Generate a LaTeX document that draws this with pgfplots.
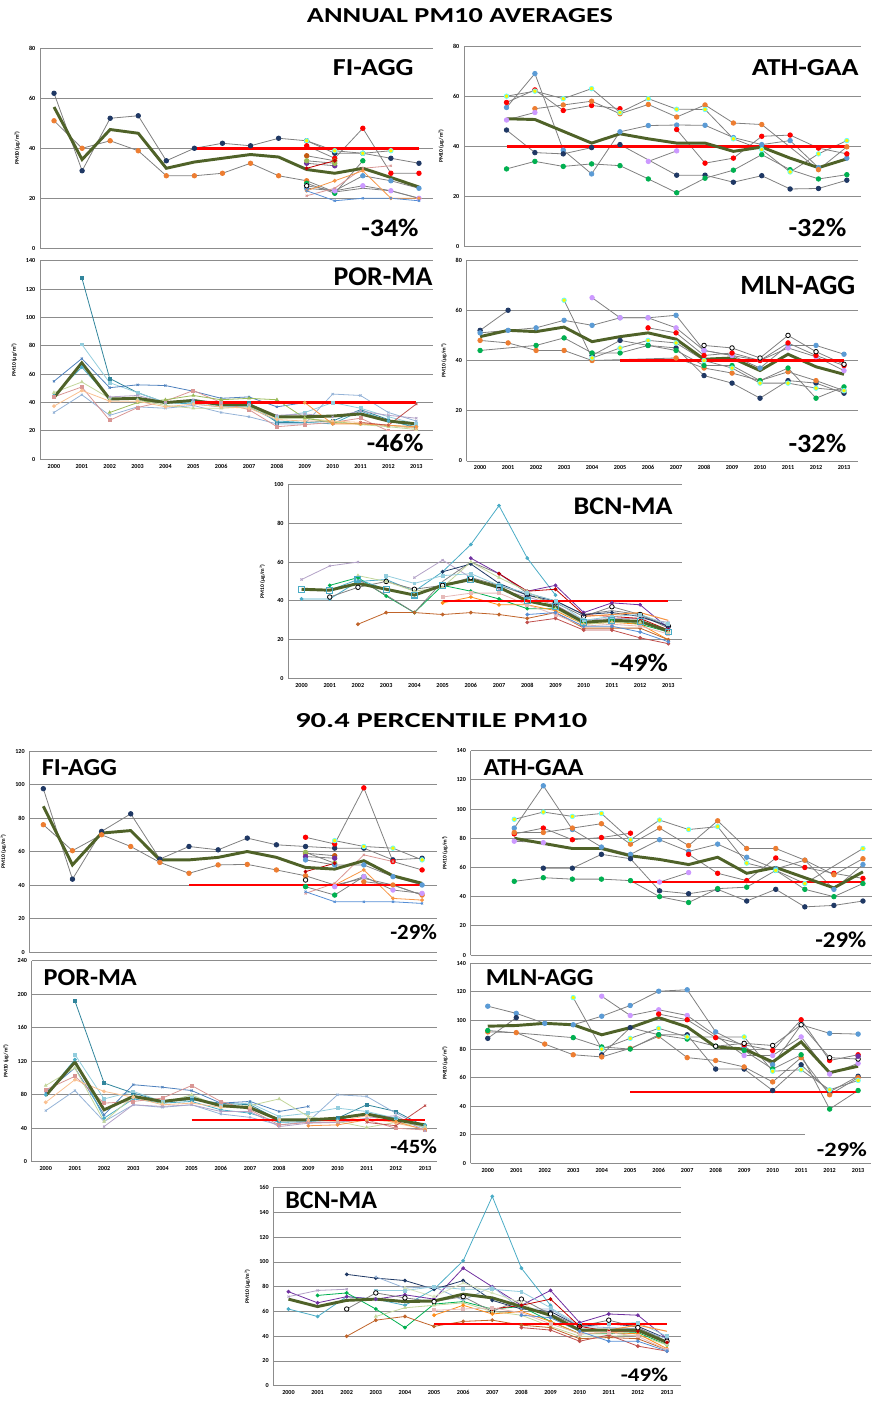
\documentclass[border=0pt]{standalone}
\usepackage{pgfplots}
\pgfplotsset{compat=1.18}
\usepackage{fontspec}
\setmainfont{Carlito}
\usepackage{graphicx}

\definecolor{navy}{HTML}{1F3864}
\definecolor{xorange}{HTML}{ED7D31}
\definecolor{xblue}{HTML}{5B9BD5}
\definecolor{xgreen}{HTML}{00B050}
\definecolor{xlav}{HTML}{CC99FF}
\definecolor{xpurple}{HTML}{7030A0}
\definecolor{xbrown}{HTML}{C55A11}
\definecolor{xolive}{HTML}{9BBB59}
\definecolor{xdred}{HTML}{C00000}
\definecolor{meanc}{HTML}{4F6228}
\definecolor{teal1}{HTML}{31859C}
\definecolor{teal2}{HTML}{4BACC6}
\definecolor{lteal}{HTML}{93CDDD}
\definecolor{eblue}{HTML}{4F81BD}
\definecolor{lblue}{HTML}{95B3D7}
\definecolor{xpink}{HTML}{D99694}
\definecolor{lpink}{HTML}{E6B9B8}
\definecolor{ered}{HTML}{C0504D}
\definecolor{lgreen}{HTML}{C3D69B}
\definecolor{pgreen}{HTML}{D7E4BD}
\definecolor{eorange}{HTML}{F79646}
\definecolor{lorange}{HTML}{FAC090}
\definecolor{elav}{HTML}{B3A2C7}
\definecolor{cblue}{HTML}{558ED5}
\definecolor{bbrown}{HTML}{C0642A}
\definecolor{borange}{HTML}{FF8C1A}
\definecolor{cyr}{HTML}{66FFFF}

\pgfplotsset{
  pm/.style={scale only axis, anchor=south west,
    axis lines=left, axis line style={draw=black!45, line width=0.6pt, -},
    ymajorgrids, grid style={draw=black!45, line width=0.7pt},
    major tick length=0pt, ymin=0,
    xtick={0,1,2,3,4,5,6,7,8,9,10,11,12,13},
    xticklabels={2000,2001,2002,2003,2004,2005,2006,2007,2008,2009,2010,2011,2012,2013},
    /pgf/number format/assume math mode=true,
    tick label style={font=\fontsize{4.6}{5}\selectfont\bfseries},
    ylabel={PM10 (µg/m³)},
    ylabel style={font=\fontsize{4.2}{5}\selectfont\bfseries},
  },
  noxl/.style={xticklabels={}},
  gline/.style={draw=black!50, line width=0.6pt, mark=*, mark size=1.7pt},
  cline/.style={line width=0.6pt, mark size=1.1pt},
  meanline/.style={draw=meanc, line width=2.2pt, no marks},
  limline/.style={draw=red, line width=2pt, no marks},
}
\newcommand{\gs}[2]{\addplot[gline, mark options={fill=#1,draw=#1}] coordinates {#2};}
\newcommand{\gcy}[1]{\addplot[gline, mark options={fill=yellow,draw=cyr,line width=0.6pt}] coordinates {#1};}
\newcommand{\gop}[1]{\addplot[gline, mark options={fill=white,draw=black,line width=0.6pt}] coordinates {#1};}
\newcommand{\cs}[3]{\addplot[cline, draw=#1, mark=#2, mark options={fill=#1,draw=#1,solid}] coordinates {#3};}
\newcommand{\mn}[1]{\addplot[meanline] coordinates {#1};}
\newcommand{\lm}[1]{\addplot[limline] coordinates {#1};}
\newcommand{\lab}[5]{\node[anchor=south west, inner sep=0pt] at (#1,#2) {\resizebox{#3pt}{#4pt}{\bfseries #5}};}

\begin{document}
\begin{tikzpicture}
\path[use as bounding box] (0pt,0pt) rectangle (654.75pt,-1052.25pt);

% ---------- P1 FI-AGG annual
\begin{axis}[pm, noxl, at={(30pt,-186.2pt)}, width=294.75pt, height=150pt,
  xmin=-0.5, xmax=13.5, ymax=80, ytick={0,20,40,60,80}]
\gs{navy}{(0,62)(1,31)(2,52)(3,53)(4,35)(5,40)(6,42)(7,41)(8,44)(9,43)(10,38)(11,38)(12,36)(13,34)}
\gs{xorange}{(0,51)(1,40)(2,43)(3,39)(4,29)(5,29)(6,30)(7,34)(8,29)(9,27)}
\addplot[draw=black!50, line width=0.6pt] coordinates {(9,27)(10,22.5)(11,24)(12,23)(13,20)};
\gcy{(9,43)(10,39)(11,38)(12,39)}
\gs{red}{(9,41)(10,36)(11,48)(12,30)(13,30)}
\gs{xbrown}{(9,37)(10,35)}
\gs{xpurple}{(9,34)(10,33)}
\gs{xolive}{(9,35)(10,34)}
\cs{xdred}{*}{(9,32)(10,35)}
\gs{xgreen}{(9,26)(10,22)(11,35)}
\gs{xblue}{(9,24)(10,23)(11,29)(12,27)(13,24)}
\gs{xlav}{(9,25)(10,23)(11,25)(12,23)(13,20)}
\cs{xpink}{x}{(9,21)(10,24)(11,32)(12,33)}
\cs{eorange}{*}{(9,23)(10,27)(11,31)(12,20)(13,20)}
\cs{cblue}{x}{(9,23)(10,19)(11,20)(12,20)(13,19)}
\gop{(9,25)}
\mn{(0,56.5)(1,35.5)(2,47.5)(3,46)(4,32)(5,34.5)(6,36)(7,37.5)(8,36.5)(9,31.5)(10,30)(11,32)(12,28.3)(13,24.5)}
\lm{(5,40)(13,40)}
\end{axis}

% ---------- P2 ATH-GAA annual
\begin{axis}[pm, noxl, at={(348pt,-185pt)}, width=297.75pt, height=150.5pt,
  xmin=-0.5, xmax=13.5, ymax=80, ytick={0,20,40,60,80}]
\gs{xblue}{(1,55.5)(2,69)(3,38.5)(4,29)(5,45.8)(6,48.3)(7,48.5)(8,48.4)(9,43.5)(10,40.7)(11,42.3)(12,31.5)(13,35.3)}
\gs{red}{(1,57.5)(2,62.5)(3,54.3)(4,56.3)(5,55)}
\gs{red}{(7,46.7)(8,33.3)(9,35.3)(10,44)(11,44.5)(12,39.3)(13,37)}
\gs{xorange}{(2,55)(3,56.5)(4,58)(5,53)(6,56.7)(7,51.7)(8,56.5)(9,49.3)(10,48.7)(12,30.7)(13,39.8)}
\gs{xlav}{(1,50.5)(2,53.5)}
\gs{xlav}{(6,34)(7,38.2)}
\gs{navy}{(1,46.5)(2,37.5)(3,37)(4,39.5)(5,40.7)(7,28.5)(8,28.5)(9,25.7)(10,28.3)(11,23)(12,23.2)(13,26.5)}
\gs{xgreen}{(1,31)(2,34)(3,32)(4,33)(5,32.3)(6,27)(7,21.5)(8,27.3)(9,30.5)(10,36.7)(11,30.7)(12,27)(13,28.7)}
\gcy{(1,60)(2,62)(3,59)(4,63)(5,53.5)(6,59)(7,54.8)(8,54.7)(9,43)(10,38.7)(11,29.8)(12,37)(13,42.3)}
\lm{(1,40)(13,40)}
\mn{(1,51)(2,50.7)(3,46)(4,41.3)(5,45)(6,43)(7,41.3)(8,41.3)(9,38)(10,39.7)(11,35.3)(12,31.5)(13,35)}
\end{axis}

% ---------- P3 POR-MA annual
\begin{axis}[pm, at={(30pt,-344.5pt)}, width=294.75pt, height=149pt,
  xmin=-0.5, xmax=13.6, ymax=140, ytick={0,20,40,60,80,100,120,140}]
\cs{teal1}{square*}{(1,128)(2,57)(3,47)(4,40)(5,41)(6,38)(7,40)(8,26)(9,26)(10,27)(11,35)(12,28)(13,22)}
\cs{lteal}{square*}{(1,81)(2,54)(3,47)(4,40)(5,40)(6,38)(7,38)(8,30)(9,33)(10,40)(11,36)(12,30)(13,25)}
\cs{eblue}{x}{(0,55)(1,71)(2,50.5)(3,52.5)(4,52)(5,48)(6,43)(7,44)(8,37)(9,40)}
\cs{teal2}{*}{(0,45)(1,65)(2,43)(3,42)(4,40)(5,39)(6,37)(7,37)(8,27)(9,26)(10,25)(11,34)(12,27)(13,23)}
\cs{lblue}{x}{(0,33)(1,45.5)(2,31)(3,37)(4,36)(5,38)(6,33)(7,30)(8,25)(9,25)(10,46)(11,45)(12,33)(13,27)}
\cs{xpink}{square*}{(0,44)(1,51)(2,27.5)(3,36.5)(4,41)(5,48.5)(6,40)(7,35)(8,23)(9,24.5)(10,26)(11,29)(12,20)(13,20)}
\cs{lgreen}{triangle*}{(0,47)(1,54.5)(2,43)(3,42)(4,38)(5,36)(6,36)(7,37)(8,29)(9,29)(10,27)(11,24.5)(12,23)(13,21)}
\cs{xolive}{triangle*}{(2,33)(3,40)(4,42)(5,45)(6,42)(7,43)(8,42)(9,29)(10,26)(11,25)(12,24)(13,22)}
\cs{lorange}{*}{(0,37.5)(1,48.5)(2,41)(3,41)(4,37)(5,39)(6,37)(7,36)(8,28)(9,27)(10,27)(11,26)(12,24)(13,22)}
\cs{eorange}{*}{(9,40)(10,25)(11,25)(12,24)(13,23)}
\cs{elav}{x}{(2,44)(3,45)(4,40)(5,42)(6,40)(7,39)(8,31)(9,32)(10,30)(11,34)(12,31)(13,29)}
\cs{ered}{x}{(11,26)(12,24)(13,39)}
\mn{(0,43.5)(1,68)(2,42.5)(3,43)(4,40)(5,41.5)(6,38.5)(7,38.5)(8,30)(9,30)(10,30.5)(11,32)(12,27)(13,25)}
\lm{(5,40)(13,40)}
\end{axis}

% ---------- P4 MLN-AGG annual
\begin{axis}[pm, at={(350pt,-345.75pt)}, width=293.5pt, height=150.75pt,
  xmin=-0.48, xmax=13.5, ymax=80, ytick={0,20,40,60,80}]
\gs{navy}{(0,52)(1,60)}
\gs{navy}{(4,42)(5,48)(6,46)(7,45)(8,34)(9,31)(10,25)(11,32)(12,31)(13,27)}
\gs{xblue}{(0,51)(1,52)(2,53)(3,56)(4,54)(5,57)(6,57)(7,58)(8,44)(9,42)(10,37)(11,46)(12,46)(13,42.5)}
\gs{xorange}{(0,48)(1,47)(2,44)(3,44)(4,40)(7,41)(8,37)(9,35)(10,32)(11,35.5)(12,32)(13,28)}
\gs{xgreen}{(0,44)(2,46)(3,49)(4,43)(5,43)(6,46)(7,44)(8,38)(9,38)(10,32)(11,37)(12,25)(13,29.5)}
\gcy{(3,64)(4,41)(5,45)(6,48)(7,47)(8,40)(9,37)(10,31)(11,31)(12,29)(13,28)}
\gs{xlav}{(4,65)(5,57)(6,57)(7,53)(8,44)(9,42)(10,40)(11,45)(12,41.5)(13,36)}
\gs{red}{(6,53)(7,51)(8,42)(9,43)(10,40)(11,47)(12,42)(13,38)}
\gop{(8,46)(9,45)(10,41)(11,50)(12,43.5)(13,38.5)}
\mn{(0,49.5)(1,52)(2,51.5)(3,53.3)(4,47.5)(5,49.5)(6,51)(7,48.5)(8,40.5)(9,41)(10,36)(11,42.5)(12,37.5)(13,34.5)}
\lm{(5,40)(13,40)}
\end{axis}

% ---------- P5 BCN-MA annual
\begin{axis}[pm, at={(216.2pt,-509pt)}, width=295pt, height=145.8pt,
  xmin=-0.47, xmax=13.47, ymax=100, ytick={0,20,40,60,80,100}]
\cs{teal2}{*}{(0,41)(1,41)(2,50)(3,51)(4,45)(5,55)(6,69)(7,89)(8,62)(9,43)}
\cs{elav}{x}{(0,51)(1,58)(2,60)}
\cs{elav}{x}{(4,52)(5,61)(6,52)(7,46)(8,42)(9,38)(10,30)(11,31)(12,31)(13,29)}
\cs{xgreen}{*}{(1,48)(2,52)(3,42.5)(4,34)(5,48)(6,45)(7,41)(8,36)(9,36)(10,29)(11,30)(12,28)(13,24)}
\addplot[draw=black!50, line width=0.6pt, mark=*, mark size=1.7pt, mark options={fill=white,draw=black}] coordinates {(1,42)(2,47)(3,50)(4,46)(5,48)(6,52)(7,48)(8,43)(9,39)(10,32)(11,37)(12,33)(13,27)};
\addplot[draw=black!50, line width=0.6pt] coordinates {(2,51)(3,43)(4,34)(5,50)(6,60)(7,54)(8,44)(9,40)(10,33)(11,35)(12,33)(13,26)};
\cs{xpurple}{*}{(6,62)(7,54)(8,45)(9,48)(10,34)(11,39)(12,38)(13,26)}
\cs{xdred}{*}{(7,54)(8,45)(9,46)(10,33)(11,32)(12,31)(13,25)}
\cs{navy}{*}{(5,55)(6,59)(7,49)(8,43)(9,40)(10,33)(11,34)(12,32)(13,27)}
\cs{borange}{*}{(5,39)(6,42)(7,38)(8,38)(9,35)(10,28)(11,29)(12,28)(13,20)}
\cs{bbrown}{*}{(2,28)(3,34)(4,34)(5,33)(6,34)(7,33)(8,31)(9,34)(10,26)(11,26)(12,26)(13,20)}
\cs{ered}{*}{(8,29)(9,31)(10,25)(11,25)(12,21)(13,18)}
\cs{lpink}{square*}{(5,42)(6,44)(7,44)(8,38)(9,33)(10,27)(11,28)(12,27)(13,23)}
\cs{lgreen}{triangle*}{(2,53)(3,50)(4,45)(5,47)(6,60)(7,52)(8,45)(9,36)(10,28)(11,29)(12,29)(13,24)}
\cs{lteal}{square*}{(3,53)(4,49)(5,53)(6,54)(7,48)(8,44)(9,40)(10,30)(11,32)(12,33)(13,28)}
\cs{cblue}{*}{(8,33)(9,34)(10,27)(11,27)(12,24)(13,19)}
\addplot[draw=eorange, line width=0.8pt] coordinates {(10,32)(11,33)(12,34)(13,30)};
\addplot[draw=teal2, line width=0.6pt, mark=square, mark size=2.2pt, mark options={draw=teal2,fill=white,line width=0.8pt}] coordinates {(0,46)(1,45.5)(2,51)(3,46)(4,43)(5,48)(6,51)(7,47)(8,40)(9,37)(10,29)(11,30)(12,29.5)(13,24)};
\mn{(0,46)(1,45.5)(2,49)(3,46)(4,43)(5,48)(6,51)(7,47)(8,40)(9,37)(10,29)(11,30)(12,29.5)(13,24.5)}
\lm{(5,40)(13,40)}
\end{axis}

% ---------- P6 FI-AGG percentile
\begin{axis}[pm, noxl, at={(22pt,-714pt)}, width=305.5pt, height=150.75pt,
  xmin=-0.48, xmax=13.5, ymax=120, ytick={0,20,40,60,80,100,120}]
\gs{navy}{(0,97.5)(1,43.5)(2,72)(3,82.5)(4,55.5)(5,63)(6,61)(7,68)(8,64)(9,63)(10,62)(11,62)(12,55)(13,56)}
\gs{xorange}{(0,76)(1,60.5)(2,70)(3,63)(4,53.5)(5,47)(6,52)(7,52.3)(8,49)(9,45.5)}
\addplot[draw=black!50, line width=0.6pt] coordinates {(9,45.5)(10,40)(11,44)(12,40)(13,34)};
\gs{red}{(9,68.5)(10,64.5)(11,98)(12,54)(13,49)}
\gcy{(10,66.5)(11,63)(12,62)(13,55)}
\gs{xbrown}{(9,59)(10,57.5)}
\gs{xolive}{(9,59.5)(10,53)}
\gs{xpurple}{(9,57)(10,56)}
\gs{xblue}{(9,55)(10,52)(11,52)(12,45)(13,40)}
\cs{xdred}{*}{(9,48)(10,53)}
\gs{xorange}{(11,42)(12,40)(13,34)}
\gs{xgreen}{(9,39)(10,34)(11,45)}
\cs{xpink}{x}{(9,35)(10,41)(11,58)(12,54)}
\cs{eorange}{*}{(10,40)(11,49)(12,32)(13,31)}
\gs{xlav}{(10,39)(11,45)(12,37)(13,35)}
\cs{cblue}{x}{(9,36)(10,30)(11,30)(12,30)(13,29)}
\gop{(9,43)}
\mn{(0,87)(1,52)(2,71)(3,72.5)(4,55)(5,55)(6,56.5)(7,60)(8,56.5)(9,50.5)(10,49.5)(11,54.5)(12,45.5)(13,41)}
\lm{(5,40)(13,40)}
\end{axis}

% ---------- P7 ATH-GAA percentile
\begin{axis}[pm, noxl, at={(353pt,-716.25pt)}, width=300.75pt, height=153.2pt,
  xmin=-0.5, xmax=13.3, ymax=140, ytick={0,20,40,60,80,100,120,140}]
\gs{xblue}{(1,87)(2,116)(3,86)(4,74)(5,69)(6,79)(7,71)(8,76)(9,67)(10,59)(11,65)(12,45)(13,62)}
\gs{red}{(1,83)(2,87)(3,79)(4,80.5)(5,83.5)}
\gs{red}{(7,69)(8,56)(9,51)(10,66.5)(11,60)(12,56)(13,52.5)}
\gs{xorange}{(1,84)(2,84)(3,87)(4,90)(5,76)(6,87)(7,75)(8,92)(9,73)(10,73)(11,65)(12,55)(13,66)}
\gs{xlav}{(1,78)(2,77)}
\gs{xlav}{(6,50)(7,56.5)}
\gs{navy}{(2,59.5)(3,59.5)(4,69)(5,66)(6,44)(7,42)(8,45)(9,37)(10,45)(11,33)(12,34)(13,37)}
\gs{xgreen}{(1,50.5)(2,53)(3,52)(4,52)(5,51)(6,40)(7,36)(8,45.5)(9,46.5)(10,58)(11,45)(12,40)(13,49)}
\gcy{(1,93)(2,98)(3,95)(4,97)(5,79)(6,92.5)(7,86)(8,88)(9,63)(10,58)(11,49)(13,73)}
\lm{(5,50)(13,50)}
\mn{(1,80)(2,76.5)(3,73)(4,73)(5,68)(6,65.5)(7,62)(8,67)(9,56)(10,60)(11,53)(12,46)(13,57)}
\end{axis}

% ---------- P8 POR-MA percentile
\begin{axis}[pm, at={(23.8pt,-871.3pt)}, width=303.75pt, height=150.75pt,
  xmin=-0.48, xmax=13.4, ymax=240, ytick={0,40,80,120,160,200,240}]
\cs{teal1}{square*}{(1,192)(2,94)(3,82)(4,72)(5,74)(6,70)(7,68)(8,50)(9,50)(10,52)(11,68)(12,60)(13,42)}
\cs{lteal}{square*}{(1,128)(2,75)(3,84)(4,72)(5,78)(6,68)(7,70)(8,54)(9,58)(10,64)(11,60)(12,52)(13,40)}
\cs{eblue}{x}{(0,83)(1,112)(2,56)(3,92)(4,89)(5,85)(6,70)(7,72)(8,60)(9,66)}
\cs{teal2}{*}{(0,80)(1,122)(2,52)(3,75)(4,70)(5,72)(6,62)(7,58)(8,47)(9,48)(10,50)(11,58)(12,52)(13,44)}
\cs{lblue}{x}{(0,61)(1,85)(2,48)(3,68)(4,65)(5,68)(6,57)(7,53)(8,44)(9,48)(10,80)(11,78)(12,58)(13,40)}
\cs{xpink}{square*}{(0,86)(1,102)(2,70)(3,72)(4,76)(5,91)(6,72)(7,62)(8,44)(9,47)(10,47)(11,50)(12,40)(13,38)}
\cs{lgreen}{triangle*}{(0,91)(1,112)(2,48)(3,78)(4,70)(5,80)(6,65)(7,67)(8,75)(9,54)(10,48)(11,41)(12,47)(13,42)}
\cs{lorange}{*}{(0,71)(1,98)(2,84)(3,77)(4,68)(5,70)(6,65)(7,65)(8,50)(9,50)(10,48)(11,55)(12,46)(13,39)}
\cs{eorange}{*}{(9,43)(10,44)(11,50)(12,48)(13,38)}
\cs{elav}{x}{(2,42)(3,68)(4,66)(5,68)(6,60)(7,60)(8,42)(9,46)(10,47)(11,52)(12,55)(13,37)}
\cs{ered}{x}{(11,47)(12,43)(13,67)}
\lm{(5,50)(13,50)}
\mn{(0,79)(1,119)(2,62)(3,78)(4,72)(5,76)(6,67)(7,64.5)(8,50)(9,50)(10,52)(11,57)(12,50)(13,44)}
\end{axis}

% ---------- P9 MLN-AGG percentile
\begin{axis}[pm, at={(353pt,-872.5pt)}, width=300.2pt, height=150pt,
  xmin=-0.6, xmax=13.45, ymax=140, ytick={0,20,40,60,80,100,120,140}]
\gs{xblue}{(0,110)(1,105)(2,98)(3,97)(4,103)(5,110.5)(6,120.5)(7,121.5)(8,92)(9,82)(10,69)(11,97)(12,91)(13,90.5)}
\gs{navy}{(0,87.5)(1,102)}
\gs{navy}{(4,76)(5,95)(6,90)(7,90)(8,66)(9,66)(10,51)(11,69)(12,50)(13,61)}
\gs{xorange}{(0,92)(1,91.5)(2,83.5)(3,76)(4,74.5)(5,80.5)(6,89)(7,74)(8,72)(9,67.5)(10,57)(11,74)(12,48)(13,60)}
\gs{xgreen}{(0,93)(3,88)(4,81.5)(5,80)(6,90)(7,87)(8,82)(9,79)(10,66)(11,76)(12,38)(13,51)}
\gcy{(3,116)(4,80)(5,87.5)(6,94.5)(7,88.5)(9,88.5)(10,64.5)(11,65.5)(12,51.5)(13,58)}
\gs{xlav}{(4,117)(5,103.5)(6,107.5)(7,103.5)(9,75.5)(10,75.5)(11,88.5)(12,62.5)(13,70)}
\gs{red}{(6,104.5)(7,100.5)(8,88)(9,83)(10,79)(11,100.5)(12,72)(13,76)}
\gop{(8,82)(9,84)(10,82.5)(11,97)(12,74)(13,73)}
\gs{xpurple}{(13,75)}
\mn{(0,96)(1,96.5)(2,98)(3,97)(4,90)(5,95)(6,102)(7,95.5)(8,81.5)(9,80)(10,71)(11,85)(12,63.5)(13,68)}
\lm{(5,50)(13,50)}
\end{axis}

% ---------- P10 BCN-MA percentile
\begin{axis}[pm, at={(205pt,-1039.3pt)}, width=305.5pt, height=148.5pt,
  xmin=-0.52, xmax=13.47, ymax=160, ytick={0,20,40,60,80,100,120,140,160}]
\cs{teal2}{*}{(0,62)(1,56)(2,72)(3,70)(4,65)(5,78)(6,101)(7,153)(8,95)(9,65)}
\cs{xpurple}{*}{(0,76)(1,67)(2,72)(3,70)(4,73.5)(5,70)(6,95)(7,80)(8,65)(9,77)(10,51)(11,58)(12,57)(13,38)}
\cs{elav}{x}{(0,72)(1,77)(2,78)}
\cs{xgreen}{*}{(1,73)(2,75)(3,62)(4,47)(5,66)(6,68)(7,62)(8,64)(9,52)(10,42)(11,42)(12,43)(13,33)}
\cs{navy}{*}{(2,90)(3,87)(4,85)(5,78)(6,85)(7,69)(8,62)(9,60)(10,48)(11,50)(12,48)(13,38)}
\cs{lblue}{x}{(3,88)(4,79)(5,80)(6,69)(7,80)(8,62)(9,62)(10,48)(11,47)(12,46)(13,38)}
\cs{lteal}{square*}{(3,77)(4,77)(5,80)(6,78)(7,78)(8,76)(9,63)(10,49)(11,50)(12,51)(13,40)}
\addplot[draw=black!50, line width=0.6pt, mark=*, mark size=1.7pt, mark options={fill=white,draw=black}] coordinates {(2,62)(3,75)(4,71)(5,68)(6,72)(7,60)(8,70)(9,58)(10,48)(11,53)(12,47)(13,36)};
\cs{lgreen}{triangle*}{(3,56)(4,63)(5,65)(6,67)(7,60)(8,57)(9,48)(10,40)(11,40)(12,41)(13,33)}
\cs{pgreen}{triangle*}{(4,79)(5,72)(6,83)(7,75)(8,67)(9,55)(10,44)(11,45)(12,44)(13,34)}
\cs{bbrown}{*}{(2,40)(3,53)(4,56)(5,48)(6,52)(7,53)(8,49)(9,47)(10,38)(11,39)(12,38)(13,29)}
\cs{borange}{*}{(5,57)(6,65)(7,58)(8,60)(9,52)(10,42)(11,43)(12,42)(13,30)}
\cs{ered}{*}{(8,47)(9,45)(10,36)(11,41)(12,32)(13,28)}
\cs{xdred}{*}{(7,62)(8,65)(9,70)(10,48)(11,44)(12,44)(13,35)}
\cs{lpink}{square*}{(5,61)(6,62)(7,63)(8,59)(9,50)(10,42)(11,43)(12,40)(13,29)}
\cs{cblue}{*}{(8,57)(9,55)(10,44)(11,36)(12,36)(13,28)}
\addplot[draw=eorange, line width=0.8pt] coordinates {(10,44)(11,45)(12,49)(13,44)};
\mn{(0,70)(1,64)(2,69)(3,70)(4,68)(5,68.5)(6,74)(7,71)(8,64)(9,57)(10,45)(11,45)(12,45)(13,35)}
\lm{(5,50)(13,50)}
\end{axis}

% ---------- titles and labels (pixel coordinates)
\begin{scope}[x=0.75pt, y=-0.75pt]
\fill[white] (355,430.5) rectangle (434,456);
\fill[white] (805,1132) rectangle (873,1162);
\lab{306.7}{23.3}{229.5}{10.5}{ANNUAL PM10 AVERAGES}
\lab{295}{728}{219}{10.5}{90.4 PERCENTILE PM10}
\lab{332.7}{76}{60.45}{12}{FI-AGG}
\lab{751.7}{76}{79.95}{12}{ATH-GAA}
\lab{333.3}{286}{74.25}{13.3}{POR-MA}
\lab{740}{295}{86.25}{13.7}{MLN-AGG}
\lab{573.3}{515}{74.25}{12.5}{BCN-MA}
\lab{41.7}{776}{56.25}{12}{FI-AGG}
\lab{483.3}{776}{75}{12}{ATH-GAA}
\lab{43.3}{986}{70}{12}{POR-MA}
\lab{485.7}{986}{80.7}{12}{MLN-AGG}
\lab{285}{1209.3}{68.8}{12.5}{BCN-MA}
\lab{361}{236.7}{43}{13}{-34\%}
\lab{788.3}{237.3}{43.3}{13.5}{-32\%}
\lab{366.7}{452.3}{42.5}{13}{-46\%}
\lab{788.3}{453.3}{43.3}{13.7}{-32\%}
\lab{610.7}{672.3}{42.75}{13}{-49\%}
\lab{390}{940}{35}{11.25}{-29\%}
\lab{815}{948.3}{38.25}{11.7}{-29\%}
\lab{390}{1154}{35}{10.5}{-45\%}
\lab{816.7}{1157.3}{37.5}{10.5}{-29\%}
\lab{620.7}{1381.7}{35.25}{10}{-49\%}
\end{scope}
\end{tikzpicture}
\end{document}
